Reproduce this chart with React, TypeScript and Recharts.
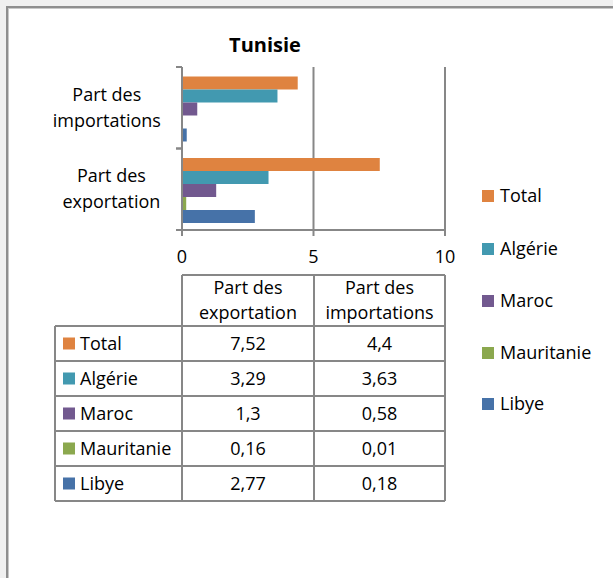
import React from 'react';
import { BarChart, Bar, XAxis, YAxis, CartesianGrid } from 'recharts';

// Trade shares of Tunisia with Maghreb partners (%)
const categories = ['Part des exportation', 'Part des importations'];
const categoryLabelLines = [
  ['Part des', 'exportation'],
  ['Part des', 'importations'],
];
const seriesNames = ['Total', 'Algérie', 'Maroc', 'Mauritanie', 'Libye'];
const seriesColors = ['#DF8340', '#4299B0', '#72598F', '#8BA84E', '#4672A8'];
const exportShares = [7.52, 3.29, 1.3, 0.16, 2.77];
const importShares = [4.4, 3.63, 0.58, 0.01, 0.18];
const xTicks = [0, 5, 10];
const chartTitle = 'Tunisie';

const valuesByCategory = [exportShares, importShares];

const chartData = categories.map((category, ci) => {
  const row: Record<string, string | number> = { category };
  seriesNames.forEach((name, si) => {
    row[name] = valuesByCategory[ci][si];
  });
  return row;
});

const FONT = '"Open Sans", "Noto Sans", sans-serif';
const AXIS_GRAY = '#878787';
const TEXT_SIZE = 18;

const fmt = (v: number) => String(v).replace('.', ',');

// Two-line category label with tick marks on the band boundaries
const CategoryTick = (props: any) => {
  const { x, y, payload, index } = props;
  const half = payload && payload.offset ? payload.offset : 41;
  const idx = categories.indexOf(payload.value);
  const lines = categoryLabelLines[idx >= 0 ? idx : index] || [String(payload.value)];
  const longest = Math.max(...lines.map((l: string) => l.length));
  const cx = x - 20 - longest * 4.6;
  return (
    <g>
      <line x1={x - 6} x2={x} y1={y - half} y2={y - half} stroke={AXIS_GRAY} strokeWidth={2} />
      <line x1={x - 6} x2={x} y1={y + half} y2={y + half} stroke={AXIS_GRAY} strokeWidth={2} />
      <text textAnchor="middle" fontFamily={FONT} fontSize={TEXT_SIZE} fill="#000">
        {lines.map((l: string, i: number) => (
          <tspan key={i} x={cx} y={y - 7 + i * 26}>
            {l}
          </tspan>
        ))}
      </text>
    </g>
  );
};

// Data table geometry under the plot
const tableCols = [55, 182, 314, 445];
const headerTop = 275;
const bodyTop = 326;
const rowH = 35;

const Overlay = () => {
  const bodyBottom = bodyTop + rowH * seriesNames.length;
  const legendCenters = [196, 249, 301, 353, 404];
  return (
    <svg
      width={613}
      height={578}
      style={{ position: 'absolute', left: 0, top: 0, pointerEvents: 'none' }}
    >
      <text
        x={265}
        y={52}
        textAnchor="middle"
        fontFamily={FONT}
        fontSize={20}
        fontWeight="bold"
        fill="#000"
      >
        {chartTitle}
      </text>

      {/* legend */}
      {seriesNames.map((name, i) => (
        <g key={name}>
          <rect x={482} y={legendCenters[i] - 6} width={12} height={12} fill={seriesColors[i]} />
          <text x={500} y={legendCenters[i] + 6} fontFamily={FONT} fontSize={TEXT_SIZE} fill="#000">
            {name}
          </text>
        </g>
      ))}

      {/* data table */}
      <g stroke={AXIS_GRAY} strokeWidth={2}>
        <line x1={tableCols[1]} x2={tableCols[3]} y1={headerTop} y2={headerTop} />
        {[1, 2, 3].map((c) => (
          <line key={'hv' + c} x1={tableCols[c]} x2={tableCols[c]} y1={headerTop} y2={bodyTop} />
        ))}
        {seriesNames.map((_, r) => (
          <line key={'h' + r} x1={tableCols[0]} x2={tableCols[3]} y1={bodyTop + r * rowH} y2={bodyTop + r * rowH} />
        ))}
        <line x1={tableCols[0]} x2={tableCols[3]} y1={bodyBottom} y2={bodyBottom} />
        {[0, 1, 2, 3].map((c) => (
          <line key={'bv' + c} x1={tableCols[c]} x2={tableCols[c]} y1={bodyTop} y2={bodyBottom} />
        ))}
      </g>
      {categoryLabelLines.map((lines, ci) => {
        const cx = (tableCols[ci + 1] + tableCols[ci + 2]) / 2;
        return (
          <text key={'hd' + ci} textAnchor="middle" fontFamily={FONT} fontSize={TEXT_SIZE} fill="#000">
            {lines.map((l, i) => (
              <tspan key={i} x={cx} y={headerTop + 19 + i * 25}>
                {l}
              </tspan>
            ))}
          </text>
        );
      })}
      {seriesNames.map((name, r) => {
        const cy = bodyTop + r * rowH + rowH / 2;
        return (
          <g key={'row' + name}>
            <rect x={63} y={cy - 6} width={12} height={12} fill={seriesColors[r]} />
            <text x={80} y={cy + 6} fontFamily={FONT} fontSize={TEXT_SIZE} fill="#000">
              {name}
            </text>
            {valuesByCategory.map((vals, ci) => (
              <text
                key={ci}
                x={(tableCols[ci + 1] + tableCols[ci + 2]) / 2}
                y={cy + 6}
                textAnchor="middle"
                fontFamily={FONT}
                fontSize={TEXT_SIZE}
                fill="#000"
              >
                {fmt(vals[r])}
              </text>
            ))}
          </g>
        );
      })}
    </svg>
  );
};

export default function App() {
  return (
    <div
      style={{
        position: 'absolute',
        left: 0,
        top: 0,
        width: 613,
        height: 578,
        overflow: 'hidden',
        background: '#f0f0f0',
      }}
    >
      <div
        style={{
          position: 'absolute',
          left: 6,
          top: 6,
          width: 640,
          height: 640,
          background: '#fff',
          borderLeft: '2px solid #8e8e8e',
          borderTop: '2px solid #8e8e8e',
          boxShadow: 'inset 1px 1px 0 #c8c8c8',
        }}
      />
      <div style={{ position: 'absolute', left: 0, top: 0 }}>
        <BarChart
          width={613}
          height={578}
          data={chartData}
          layout="vertical"
          margin={{ top: 67, right: 168, bottom: 308, left: 0 }}
          barCategoryGap={9.5}
          barGap={0}
        >
          <CartesianGrid horizontal={false} stroke={AXIS_GRAY} strokeWidth={2} />
          <XAxis
            type="number"
            domain={[0, 10]}
            ticks={xTicks}
            interval={0}
            height={40}
            axisLine={{ stroke: AXIS_GRAY, strokeWidth: 2 }}
            tickLine={{ stroke: AXIS_GRAY, strokeWidth: 2 }}
            tickSize={6}
            tickMargin={14}
            tick={{ fill: '#000', fontSize: TEXT_SIZE, fontFamily: FONT }}
          />
          <YAxis
            type="category"
            dataKey="category"
            reversed
            width={182}
            interval={0}
            axisLine={{ stroke: AXIS_GRAY, strokeWidth: 2 }}
            tickLine={false}
            tickSize={0}
            tickMargin={0}
            tick={<CategoryTick />}
          />
          {seriesNames.map((name, i) => (
            <Bar key={name} dataKey={name} fill={seriesColors[i]} isAnimationActive={false} />
          ))}
        </BarChart>
      </div>
      <Overlay />
    </div>
  );
}
